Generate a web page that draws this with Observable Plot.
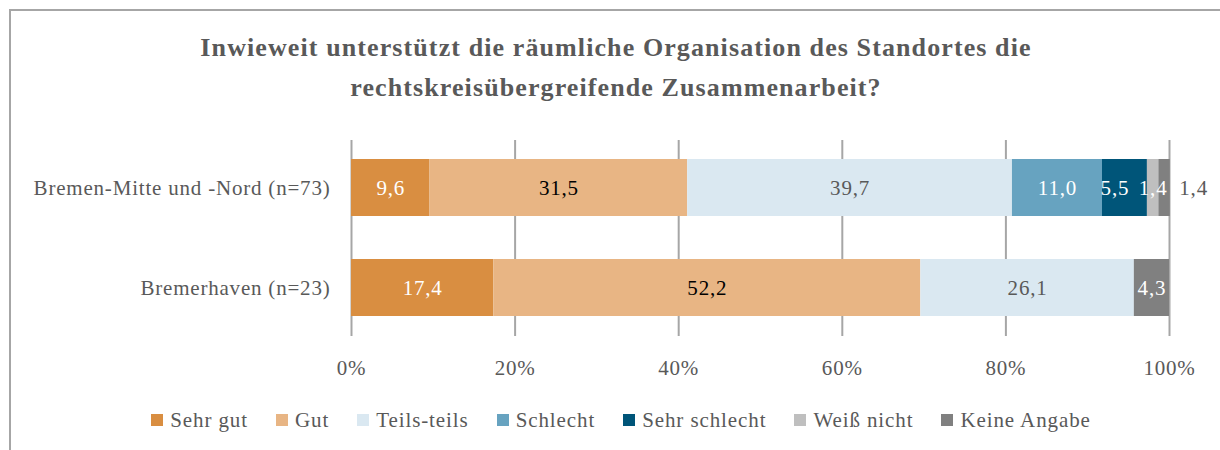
<!DOCTYPE html>
<html><head><meta charset="utf-8">
<script src="https://cdn.jsdelivr.net/npm/d3@7"></script>
<script src="https://cdn.jsdelivr.net/npm/@observablehq/plot@0.6"></script>
<style>
body{margin:0;background:#fff;}
#wrap{position:relative;width:1220px;height:450px;overflow:hidden;font-family:"Liberation Serif",serif;color:#595959;}
#frame{position:absolute;left:9px;top:9px;width:1220px;height:450px;border-top:2px solid #a6a6a6;border-left:2px solid #a6a6a6;}
#title{position:absolute;left:10px;width:1212px;top:28px;text-align:center;font-weight:bold;font-size:26px;letter-spacing:1.1px;line-height:40px;}
#chart{position:absolute;left:0;top:130px;}
#chart svg text{letter-spacing:0.8px;}
#legend{position:absolute;top:408px;left:0;width:1242px;display:flex;justify-content:center;font-size:21px;letter-spacing:0.9px;line-height:24px;}
.item{display:flex;align-items:center;margin:0 14px;}
.sw{width:12px;height:12px;margin-right:7px;}
</style></head>
<body>
<div id="wrap">
<div id="frame"></div>
<div id="title">Inwieweit unterstützt die räumliche Organisation des Standortes die<br>rechtskreisübergreifende Zusammenarbeit?</div>
<div id="chart"></div>
<div id="legend"></div>
</div>
<script>
const groups = ["Bremen-Mitte und -Nord (n=73)", "Bremerhaven (n=23)"];
const categories = ["Sehr gut", "Gut", "Teils-teils", "Schlecht", "Sehr schlecht", "Weiß nicht", "Keine Angabe"];
const colors = ["#d98e41", "#e8b584", "#dae8f1", "#67a3c0", "#005579", "#bfbfbf", "#808080"];
const labelColors = ["#ffffff", "#000000", "#595959", "#ffffff", "#ffffff", "#ffffff", "#ffffff"];
const valuesBremen = [9.6, 31.5, 39.7, 11.0, 5.5, 1.4, 1.4];
const valuesBremerhaven = [17.4, 52.2, 26.1, 0, 0, 0, 4.3];
const xTicks = [0, 20, 40, 60, 80, 100];

const rows = [];
[valuesBremen, valuesBremerhaven].forEach((vals, gi) => {
  vals.forEach((v, ci) => rows.push({group: groups[gi], cat: categories[ci], ci, value: v}));
});
const fmt = v => v.toFixed(1).replace(".", ",");
const outside = d => d.cat === "Keine Angabe" && d.value < 2;

const textMarks = categories.map((c, ci) =>
  Plot.textX(rows, Plot.stackX({
    x: "value", y: "group",
    text: d => (d.cat === c && d.value > 0 && !outside(d)) ? fmt(d.value) : "",
    fill: labelColors[ci], fontSize: 21,
    dx: c === "Sehr schlecht" ? -10 : 0
  }))
);

const chart = Plot.plot({
  width: 1220, height: 260,
  marginLeft: 351, marginRight: 51, marginTop: 10, marginBottom: 54,
  style: {fontFamily: "Liberation Serif, serif", fontSize: "21px", color: "#595959", background: "transparent", overflow: "visible"},
  x: {domain: [0, 100]},
  y: {domain: groups, paddingInner: 0.428, paddingOuter: 0.19},
  color: {domain: categories, range: colors},
  marks: [
    Plot.gridX(xTicks, {stroke: "#a6a6a6", strokeOpacity: 1, strokeWidth: 2}),
    Plot.barX(rows, {x: "value", y: "group", fill: "cat"}),
    ...textMarks,
    Plot.textX(rows, Plot.stackX2({
      x: "value", y: "group",
      text: d => outside(d) ? fmt(d.value) : "",
      textAnchor: "start", dx: 9, fill: "#595959", fontSize: 21
    })),
    Plot.axisX(xTicks, {tickSize: 0, tickPadding: 24, tickFormat: d => d + "%", label: null, fontSize: 21}),
    Plot.axisY({tickSize: 0, tickPadding: 21, label: null, fontSize: 21})
  ]
});
document.getElementById("chart").appendChild(chart);

const legend = document.getElementById("legend");
categories.forEach((c, i) => {
  const it = document.createElement("div");
  it.className = "item";
  it.innerHTML = `<span class="sw" style="background:${colors[i]}"></span><span>${c}</span>`;
  legend.appendChild(it);
});
</script>
</body></html>
